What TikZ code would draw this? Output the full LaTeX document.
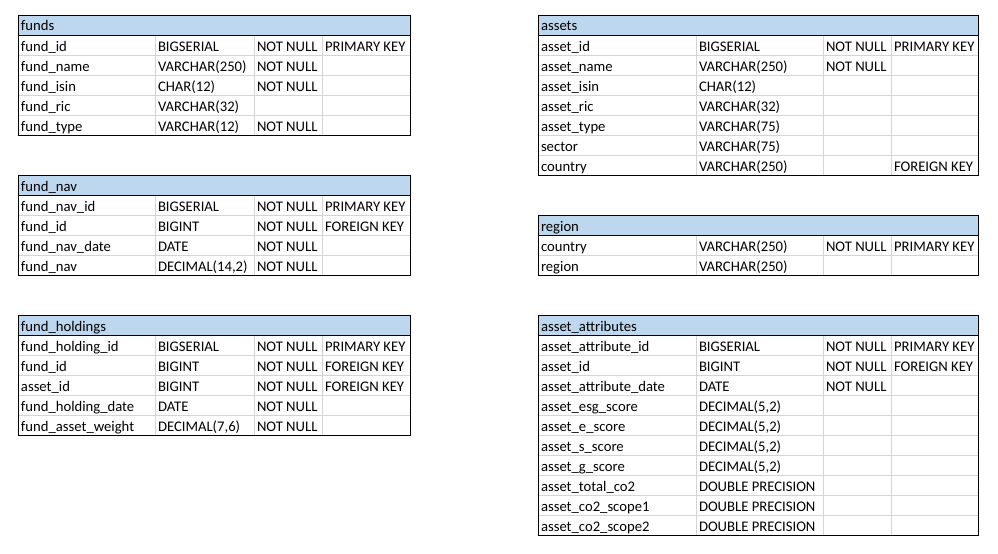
\documentclass[tikz,border=0pt]{standalone}
\usepackage{fontspec}
\setmainfont{Carlito}
\definecolor{hdrblue}{HTML}{BDD7EE}
\definecolor{gridgray}{HTML}{D4D4D4}
\tikzset{
  cell/.style={anchor=base west, inner sep=0pt, outer sep=0pt, font=\fontsize{11}{13}\selectfont},
  gridline/.style={draw=gridgray, line width=0.75pt},
  frame/.style={draw=black, line width=0.75pt},
}
% \dbtable{name}{left}{col1}{col2}{col3}{right}{top}{rows}{title}
\newcommand\dbtable[9]{%
  \def\tN{#1}\def\tL{#2}\def\tA{#3}\def\tB{#4}\def\tC{#5}\def\tT{#7}%
  \pgfmathsetmacro\tBot{#7+20*(#8+1)}%
  \fill[hdrblue] (#2,#7) rectangle (#6,#7+20);
  \foreach \k in {2,...,#8} \draw[gridline] (#2,#7+20*\k) -- (#6,#7+20*\k);
  \foreach \cx in {#3,#4,#5} \draw[gridline] (\cx,#7+20) -- (\cx,\tBot);
  \draw[frame] (#2,#7+20) -- (#6,#7+20);
  \draw[frame] (#2,#7) rectangle (#6,\tBot);
  \node[cell] (#1-title) at (#2+3,#7+16) {#9};
}
% \dbrow{index}{column}{type}{null}{key}
\newcommand\dbcell[3]{\if\relax\detokenize{#3}\relax\else
  \node[cell] (\tN-\rowidx-#1) at (#2+3,\rowy) {#3};\fi}
\newcommand\dbrow[5]{%
  \def\rowidx{#1}%
  \pgfmathsetmacro\rowy{\tT+20*(#1+1)-3.7}%
  \dbcell{1}{\tL}{#2}\dbcell{2}{\tA}{#3}\dbcell{3}{\tB}{#4}\dbcell{4}{\tC}{#5}%
}
\begin{document}
\begin{tikzpicture}[x=0.75pt,y=-0.75pt]
\useasboundingbox[fill=white] (0,0) rectangle (998,553);

% funds
\dbtable{funds}{18}{155}{254}{322}{410}{15}{5}{funds}
\dbrow{1}{fund\_id}{BIGSERIAL}{NOT NULL}{PRIMARY KEY}
\dbrow{2}{fund\_name}{VARCHAR(250)}{NOT NULL}{}
\dbrow{3}{fund\_isin}{CHAR(12)}{NOT NULL}{}
\dbrow{4}{fund\_ric}{VARCHAR(32)}{}{}
\dbrow{5}{fund\_type}{VARCHAR(12)}{NOT NULL}{}

% fund_nav
\dbtable{nav}{18}{155}{254}{322}{410}{175}{4}{fund\_nav}
\dbrow{1}{fund\_nav\_id}{BIGSERIAL}{NOT NULL}{PRIMARY KEY}
\dbrow{2}{fund\_id}{BIGINT}{NOT NULL}{FOREIGN KEY}
\dbrow{3}{fund\_nav\_date}{DATE}{NOT NULL}{}
\dbrow{4}{fund\_nav}{DECIMAL(14,2)}{NOT NULL}{}

% fund_holdings
\dbtable{holdings}{18}{155}{254}{322}{410}{315}{5}{fund\_holdings}
\dbrow{1}{fund\_holding\_id}{BIGSERIAL}{NOT NULL}{PRIMARY KEY}
\dbrow{2}{fund\_id}{BIGINT}{NOT NULL}{FOREIGN KEY}
\dbrow{3}{asset\_id}{BIGINT}{NOT NULL}{FOREIGN KEY}
\dbrow{4}{fund\_holding\_date}{DATE}{NOT NULL}{}
\dbrow{5}{fund\_asset\_weight}{DECIMAL(7,6)}{NOT NULL}{}

% assets
\dbtable{assets}{538}{696}{823}{891}{978}{15}{7}{assets}
\dbrow{1}{asset\_id}{BIGSERIAL}{NOT NULL}{PRIMARY KEY}
\dbrow{2}{asset\_name}{VARCHAR(250)}{NOT NULL}{}
\dbrow{3}{asset\_isin}{CHAR(12)}{}{}
\dbrow{4}{asset\_ric}{VARCHAR(32)}{}{}
\dbrow{5}{asset\_type}{VARCHAR(75)}{}{}
\dbrow{6}{sector}{VARCHAR(75)}{}{}
\dbrow{7}{country}{VARCHAR(250)}{}{FOREIGN KEY}

% region
\dbtable{region}{538}{696}{823}{891}{978}{215}{2}{region}
\dbrow{1}{country}{VARCHAR(250)}{NOT NULL}{PRIMARY KEY}
\dbrow{2}{region}{VARCHAR(250)}{}{}

% asset_attributes
\dbtable{attrs}{538}{696}{823}{891}{978}{315}{10}{asset\_attributes}
\dbrow{1}{asset\_attribute\_id}{BIGSERIAL}{NOT NULL}{PRIMARY KEY}
\dbrow{2}{asset\_id}{BIGINT}{NOT NULL}{FOREIGN KEY}
\dbrow{3}{asset\_attribute\_date}{DATE}{NOT NULL}{}
\dbrow{4}{asset\_esg\_score}{DECIMAL(5,2)}{}{}
\dbrow{5}{asset\_e\_score}{DECIMAL(5,2)}{}{}
\dbrow{6}{asset\_s\_score}{DECIMAL(5,2)}{}{}
\dbrow{7}{asset\_g\_score}{DECIMAL(5,2)}{}{}
\dbrow{8}{asset\_total\_co2}{DOUBLE PRECISION}{}{}
\dbrow{9}{asset\_co2\_scope1}{DOUBLE PRECISION}{}{}
\dbrow{10}{asset\_co2\_scope2}{DOUBLE PRECISION}{}{}
\end{tikzpicture}
\end{document}
